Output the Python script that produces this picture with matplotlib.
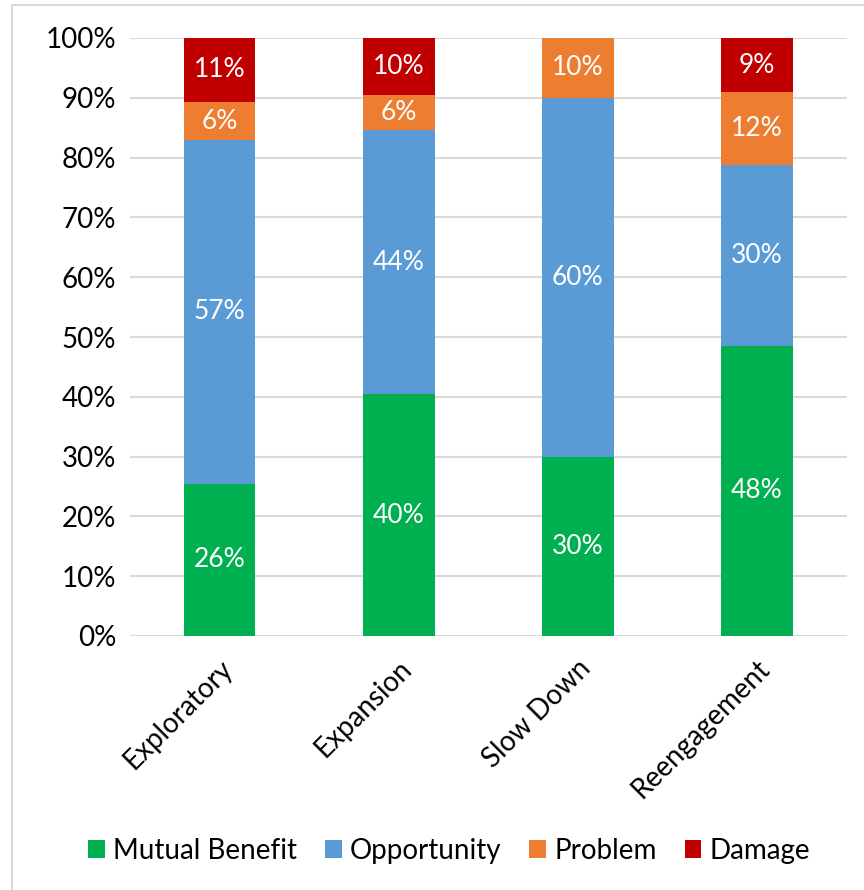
import matplotlib
matplotlib.use("Agg")
import matplotlib.pyplot as plt
from matplotlib.patches import Rectangle
import numpy as np

# values (percent of each stage)
stages = ["Exploratory", "Expansion", "Slow Down", "Reengagement"]
mutual_benefit = [25.5, 40.4, 30.0, 48.5]
opportunity = [57.4, 44.2, 60.0, 30.3]
problem = [6.4, 5.8, 10.0, 12.1]
damage = [10.7, 9.6, 0.0, 9.1]

series = [
    ("Mutual Benefit", mutual_benefit, "#00B050"),
    ("Opportunity", opportunity, "#5B9BD5"),
    ("Problem", problem, "#ED7D31"),
    ("Damage", damage, "#C00000"),
]

plt.rcParams["font.family"] = ["Lato", "DejaVu Sans"]

fig = plt.figure(figsize=(8.64, 8.90), dpi=100)
ax = fig.add_axes([130 / 864, 1 - 636 / 890, 716.5 / 864, 598 / 890])

x = np.arange(len(stages))
bottom = np.zeros(len(stages))
for name, vals, color in series:
    vals = np.array(vals)
    ax.bar(x, vals, 0.4, bottom=bottom, color=color, label=name, zorder=3)
    for xi, b, v in zip(x, bottom, vals):
        if v > 0:
            ax.text(xi, b + v / 2, f"{round(v):.0f}%", ha="center", va="center",
                    color="white", fontsize=19, zorder=4)
    bottom += vals

ax.set_xlim(-0.5, len(stages) - 0.5)
ax.set_ylim(0, 100)
ax.set_yticks(np.arange(0, 101, 10))
ax.set_yticklabels([f"{t}%" for t in range(0, 101, 10)], fontsize=20)
ax.set_xticks(x)
ax.set_xticklabels(stages, rotation=45, ha="right", rotation_mode="anchor", fontsize=20)
ax.tick_params(axis="both", length=0, pad=10)
ax.tick_params(axis="x", pad=14)
ax.grid(axis="y", color="#D9D9D9", linewidth=1.5, zorder=0)
for s in ax.spines.values():
    s.set_visible(False)

handles, labels = ax.get_legend_handles_labels()
fig.legend(handles, labels, loc="center", bbox_to_anchor=(0.52, 1 - 851 / 890), ncol=4,
           frameon=False, fontsize=20, handlelength=0.6, handleheight=0.6,
           handletextpad=0.3, columnspacing=1.0)

# light outer border of the chart area
fig.patches.append(Rectangle((12 / 864, -0.01), 1.0, 1 - 5 / 890 + 0.01,
                             transform=fig.transFigure, fill=False,
                             edgecolor="#D9D9D9", linewidth=1.5))

fig.savefig("out.png", dpi=100)
